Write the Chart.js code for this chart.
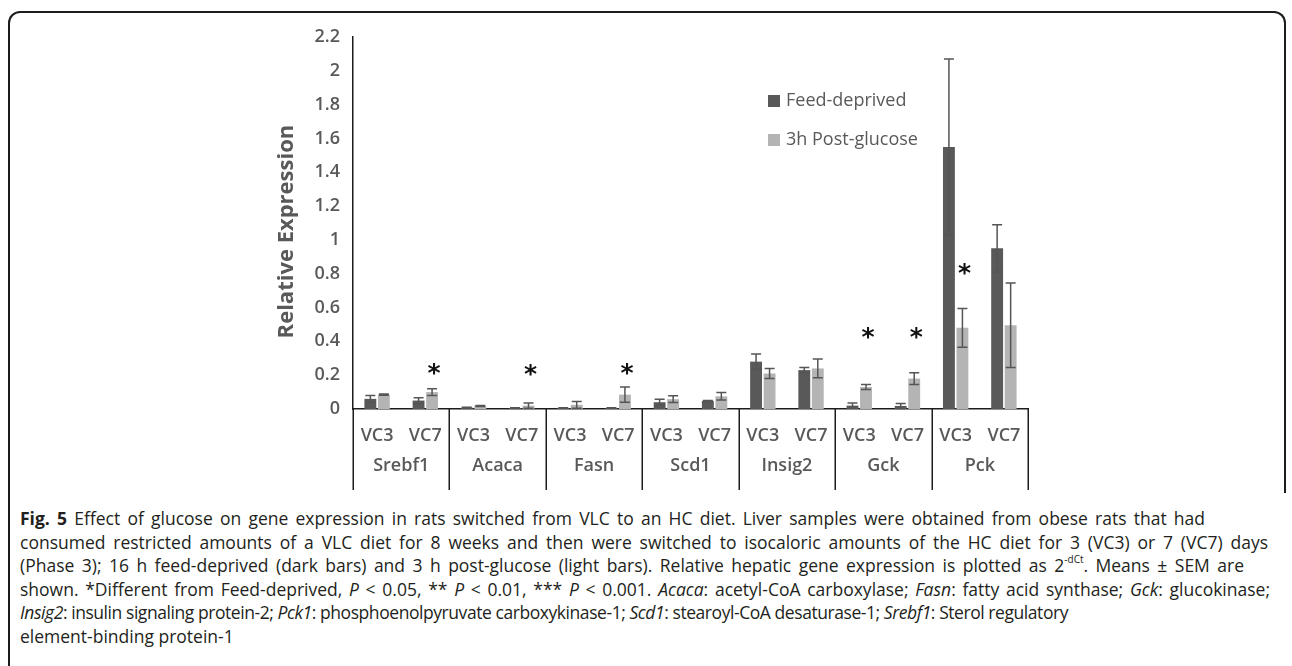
<!DOCTYPE html>
<html>
<head>
<meta charset="utf-8">
<script src="https://cdn.jsdelivr.net/npm/chart.js@4.4.1/dist/chart.umd.min.js"></script>
<style>
body{margin:0;background:#fff;width:1292px;height:666px;overflow:hidden;position:relative;font-family:'Open Sans',sans-serif;}
#frame{position:absolute;left:8px;top:11px;width:1274px;height:480px;border:2px solid #1c1c1c;border-bottom:none;border-radius:12px 12px 0 0;}
#frameLeft{position:absolute;left:8px;top:490px;width:0;height:180px;border-left:2px solid #1c1c1c;}
#chart{position:absolute;left:0;top:0;width:1292px;height:500px;}
#caption{position:absolute;left:20px;top:507px;font-size:17.5px;line-height:23.6px;color:#231f20;white-space:nowrap;}
#caption div{display:table;}
#caption sup{font-size:10px;line-height:0;position:relative;top:-2px;vertical-align:super;}
</style>
</head>
<body>
<div id="frame"></div>
<div id="frameLeft"></div>
<canvas id="chart" width="1292" height="500"></canvas>
<div id="caption">
<div><b>Fig. 5</b> Effect of glucose on gene expression in rats switched from VLC to an HC diet. Liver samples were obtained from obese rats that had</div>
<div>consumed restricted amounts of a VLC diet for 8 weeks and then were switched to isocaloric amounts of the HC diet for 3 (VC3) or 7 (VC7) days</div>
<div>(Phase 3); 16 h feed-deprived (dark bars) and 3 h post-glucose (light bars). Relative hepatic gene expression is plotted as 2<sup>-dCt</sup>. Means ± SEM are</div>
<div>shown. *Different from Feed-deprived, <i>P</i> &lt; 0.05, ** <i>P</i> &lt; 0.01, *** <i>P</i> &lt; 0.001. <i>Acaca</i>: acetyl-CoA carboxylase; <i>Fasn</i>: fatty acid synthase; <i>Gck</i>: glucokinase;</div>
<div><i>Insig2</i>: insulin signaling protein-2; <i>Pck1</i>: phosphoenolpyruvate carboxykinase-1; <i>Scd1</i>: stearoyl-CoA desaturase-1; <i>Srebf1</i>: Sterol regulatory</div>
<div>element-binding protein-1</div>
</div>
<script>
// data
var genes = ["Srebf1","Acaca","Fasn","Scd1","Insig2","Gck","Pck"];
var categories = ["VC3","VC7","VC3","VC7","VC3","VC7","VC3","VC7","VC3","VC7","VC3","VC7","VC3","VC7"];
var feedDeprived = [0.06,0.05,0.008,0.006,0.006,0.006,0.04,0.048,0.28,0.23,0.02,0.018,1.55,0.95];
var feedDeprivedErr = [0.02,0.017,0.003,0.002,0.002,0.002,0.017,0.003,0.045,0.015,0.015,0.015,0.52,0.14];
var postGlucose = [0.085,0.1,0.018,0.02,0.025,0.085,0.058,0.075,0.21,0.24,0.13,0.18,0.48,0.495];
var postGlucoseErr = [0.004,0.02,0.003,0.015,0.02,0.045,0.02,0.022,0.03,0.055,0.015,0.035,0.115,0.25];
// height (in axis units) of the significance stars, null = none
var starLevel = [null,0.25,null,0.24,null,0.25,null,null,null,null,0.46,0.46,0.84,null];
var yTicks = [0,0.2,0.4,0.6,0.8,1,1.2,1.4,1.6,1.8,2,2.2];

var axisColor = "#1c1c1c";
var textColor = "#595959";

// caption lines end roughly where they end in the printed figure (null = leave as is)
var captionRight = [1205, 1268, 1244, 1270, 1068, null];
var lines = document.querySelectorAll("#caption div");
lines.forEach(function(el, i) {
  if (captionRight[i] === null) return;
  var w = el.getBoundingClientRect().width;
  var want = captionRight[i] - 20;
  if (want > w) {
    var gaps = el.textContent.split(" ").length - 1;
    el.style.wordSpacing = ((want - w) / gaps) + "px";
  } else {
    el.style.letterSpacing = ((want - w) / el.textContent.length) + "px";
  }
});

var extras = {
  id: "extras",
  afterDatasetsDraw: function(chart) {
    var c = chart.ctx, y = chart.scales.y;
    c.save();
    c.strokeStyle = "#555555";
    c.lineWidth = 1.5;
    chart.data.datasets.forEach(function(ds, i) {
      var meta = chart.getDatasetMeta(i);
      meta.data.forEach(function(bar, j) {
        var v = ds.data[j], e = ds.err[j];
        var top = y.getPixelForValue(v + e), bot = y.getPixelForValue(Math.max(v - e, 0));
        c.beginPath();
        c.moveTo(bar.x, top); c.lineTo(bar.x, bot);
        c.moveTo(bar.x - 5, top); c.lineTo(bar.x + 5, top);
        c.moveTo(bar.x - 5, bot); c.lineTo(bar.x + 5, bot);
        c.stroke();
      });
    });
    // stars over the light bars
    var light = chart.getDatasetMeta(1);
    c.fillStyle = "#111";
    c.font = "bold 25px 'DejaVu Sans'";
    c.textAlign = "center";
    c.textBaseline = "alphabetic";
    starLevel.forEach(function(s, j) {
      if (s === null) return;
      c.fillText("*", light.data[j].x + 2, y.getPixelForValue(s) + 14);
    });
    c.restore();
  },
  afterDraw: function(chart) {
    var c = chart.ctx, x = chart.scales.x, area = chart.chartArea;
    var catW = (x.right - x.left) / categories.length;
    c.save();
    c.strokeStyle = axisColor;
    c.lineWidth = 1.5;
    c.beginPath();
    for (var g = 0; g <= genes.length; g++) {
      var px = Math.round(x.left + g * 2 * catW) + 0.25;
      c.moveTo(px, area.bottom); c.lineTo(px, area.bottom + 81);
    }
    c.stroke();
    c.fillStyle = textColor;
    c.font = "600 18px 'Open Sans'";
    c.textAlign = "center";
    c.textBaseline = "middle";
    genes.forEach(function(name, g) {
      var mid = (x.getPixelForValue(2 * g) + x.getPixelForValue(2 * g + 1)) / 2;
      c.fillText(name, mid, area.bottom + 57);
    });
    // legend
    c.font = "18px 'Open Sans'";
    c.textAlign = "left";
    chart.data.datasets.forEach(function(ds, i) {
      var ly = 101 + i * 39;
      c.fillStyle = ds.backgroundColor;
      c.fillRect(768, ly - 6, 12, 12);
      c.fillStyle = textColor;
      c.fillText(ds.label, 786, ly);
    });
    c.restore();
  }
};

new Chart(document.getElementById("chart"), {
  type: "bar",
  data: {
    labels: categories,
    datasets: [
      {label: "Feed-deprived", data: feedDeprived, err: feedDeprivedErr, backgroundColor: "#595959"},
      {label: "3h Post-glucose", data: postGlucose, err: postGlucoseErr, backgroundColor: "#b4b4b4"}
    ]
  },
  options: {
    responsive: false,
    animation: false,
    categoryPercentage: 0.56,
    barPercentage: 0.88,
    layout: {padding: {left: 270, top: 37, right: 264, bottom: 0}},
    plugins: {legend: {display: false}, tooltip: {enabled: false}},
    scales: {
      x: {
        grid: {display: false, drawTicks: false},
        border: {color: axisColor, width: 1.5},
        ticks: {color: textColor, font: {family: "Open Sans", size: 18, weight: "600"}, padding: 16, maxRotation: 0, autoSkip: false},
        afterFit: function(s) { s.height = 91; }
      },
      y: {
        min: 0, max: 2.2,
        grid: {display: false, drawTicks: false},
        border: {color: axisColor, width: 1.5},
        afterBuildTicks: function(s) { s.ticks = yTicks.map(function(v) { return {value: v}; }); },
        ticks: {color: textColor, font: {family: "Open Sans", size: 18, weight: "600"}, padding: 13,
          callback: function(v) { return String(Number(v.toFixed(1))); }},
        // trailing spaces nudge the rotated title a little lower, as in the figure
        title: {display: true, text: "Relative Expression   ", color: textColor, font: {family: "Open Sans", size: 22, weight: "bold"}},
        afterFit: function(s) { s.width = 83; }
      }
    }
  },
  plugins: [extras]
});
</script>
</body>
</html>
